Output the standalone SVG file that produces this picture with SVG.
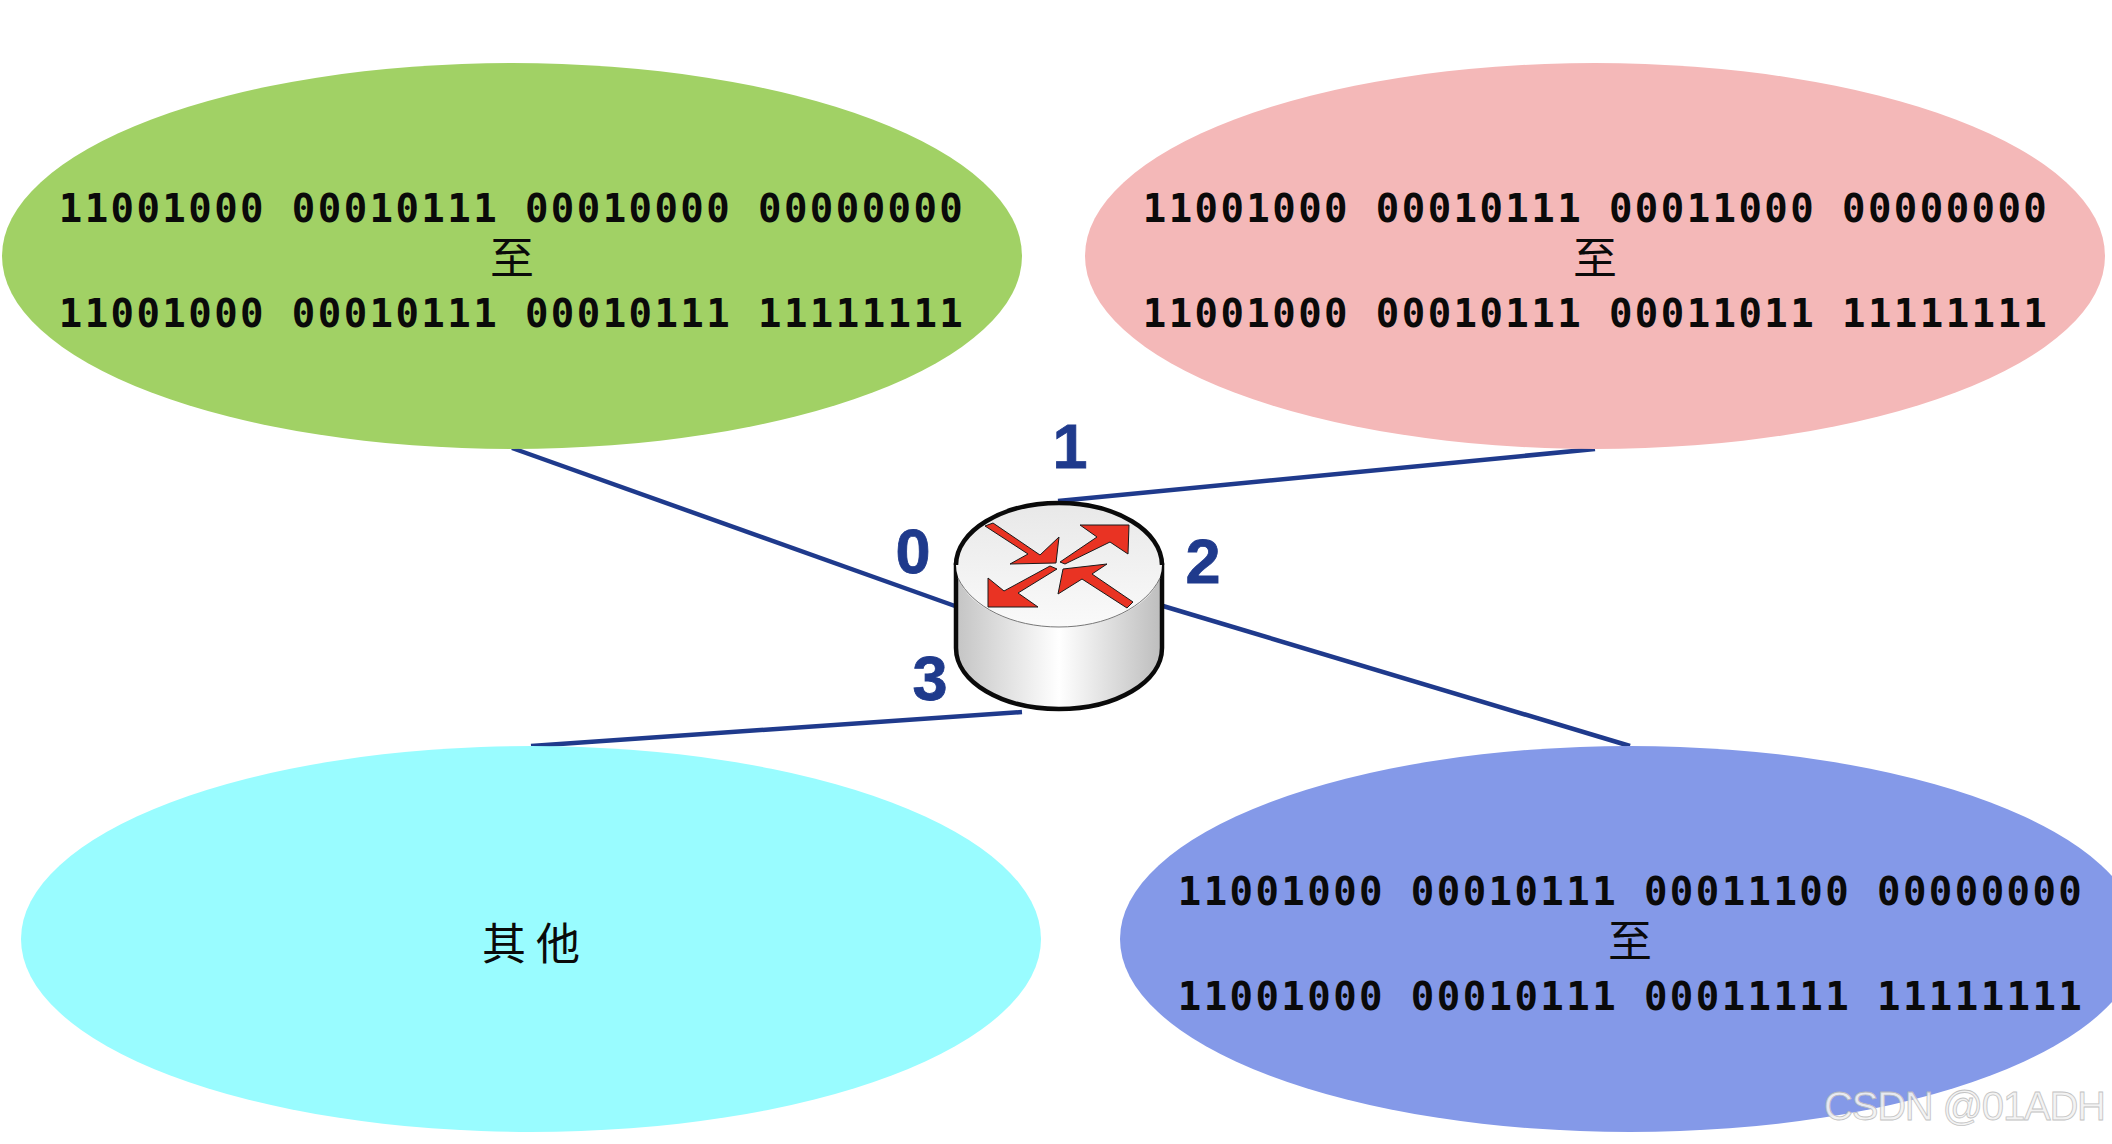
<svg xmlns="http://www.w3.org/2000/svg" width="2112" height="1144" viewBox="0 0 2112 1144">
<style>
.bin{font-family:"DejaVu Sans Mono","Liberation Mono",monospace;font-weight:700;font-size:39px;letter-spacing:2.42px;fill:#0a0a0a;text-anchor:middle}
.cjk{font-family:"Noto Sans CJK SC",sans-serif;font-size:44px;fill:#0a0a0a;text-anchor:middle}
.port{font-family:"Liberation Sans",Arial,sans-serif;font-weight:700;font-size:63px;fill:#1f3a8c;stroke:#1f3a8c;stroke-width:.8;text-anchor:middle}
.link{stroke:#1f3a8c;stroke-width:4.5;fill:none}
.arrow{fill:#e93323;stroke:#1a1a1a;stroke-width:1}
.wm{font-family:"Liberation Sans",Arial,sans-serif;font-size:40px;fill:#f2f2f2;stroke:#bdbdbd;stroke-width:.8;opacity:.9}
</style>
<defs>
<linearGradient id="side" x1="0" x2="1" y1="0" y2="0">
<stop offset="0" stop-color="#c4c4c4"/><stop offset=".5" stop-color="#ffffff"/><stop offset="1" stop-color="#bdbdbd"/>
</linearGradient>
<linearGradient id="top" x1="0" x2="0" y1="0" y2="1">
<stop offset="0" stop-color="#e8e8e8"/><stop offset="1" stop-color="#fafafa"/>
</linearGradient>
</defs>
<rect width="2112" height="1144" fill="#ffffff"/>
<g id="connectors">
<line class="link" x1="512" y1="448" x2="955" y2="606"/>
<line class="link" x1="1058" y1="501" x2="1595" y2="449"/>
<line class="link" x1="1163" y1="606" x2="1630" y2="746"/>
<line class="link" x1="531" y1="746" x2="1022" y2="712"/>
</g>
<g id="net-green">
<ellipse cx="512" cy="256" rx="510" ry="193" fill="#a1d165"/>
<text class="bin" x="512" y="222">11001000 00010111 00010000 00000000</text>
<text class="cjk" x="512" y="274">至</text>
<text class="bin" x="512" y="327">11001000 00010111 00010111 11111111</text>
</g>
<g id="net-pink">
<ellipse cx="1595" cy="256" rx="510" ry="193" fill="#f4b8b8"/>
<text class="bin" x="1596" y="222">11001000 00010111 00011000 00000000</text>
<text class="cjk" x="1595" y="274">至</text>
<text class="bin" x="1596" y="327">11001000 00010111 00011011 11111111</text>
</g>
<g id="net-cyan">
<ellipse cx="531" cy="939" rx="510" ry="193" fill="#99fcff"/>
<text class="cjk" x="531" y="960" xml:space="preserve">其 他</text>
</g>
<g id="net-blue">
<ellipse cx="1630" cy="939" rx="510" ry="193" fill="#8499e8"/>
<text class="bin" x="1631" y="905">11001000 00010111 00011100 00000000</text>
<text class="cjk" x="1630" y="957">至</text>
<text class="bin" x="1631" y="1010">11001000 00010111 00011111 11111111</text>
</g>
<g id="router">
<path d="M956 565V648C956 682 1002 709 1059 709S1162 682 1162 648V565Z" fill="url(#side)" stroke="#0a0a0a" stroke-width="4.5"/>
<ellipse cx="1059" cy="565" rx="103" ry="62" fill="url(#top)"/>
<path d="M956 565C956 531 1002 503 1059 503S1162 531 1162 565" fill="none" stroke="#0a0a0a" stroke-width="4.5"/>
<path d="M958 578C972 607 1012 627 1059 627S1146 607 1160 578" fill="none" stroke="#777" stroke-width="1"/>
<path class="arrow" d="M985 526L993 523L1040 555L1059 537L1056 563L1010 564L1028 554Z"/>
<path class="arrow" d="M1060 562L1097 537L1080 525L1129 525L1128 554L1110 542L1065 564Z"/>
<path class="arrow" d="M1057 569L1018 593L1038 607L988 607L988 578L1004 591L1050 566Z"/>
<path class="arrow" d="M1133 602L1127 608L1082 579L1058 594L1063 569L1107 564L1092 574Z"/>
</g>
<g id="port-labels">
<text class="port" x="1070" y="468">1</text>
<text class="port" x="913" y="573">0</text>
<text class="port" x="1203" y="583">2</text>
<text class="port" x="930" y="700">3</text>
</g>
<text class="wm" x="1824" y="1120" textLength="282">CSDN @01ADH</text>
</svg>
